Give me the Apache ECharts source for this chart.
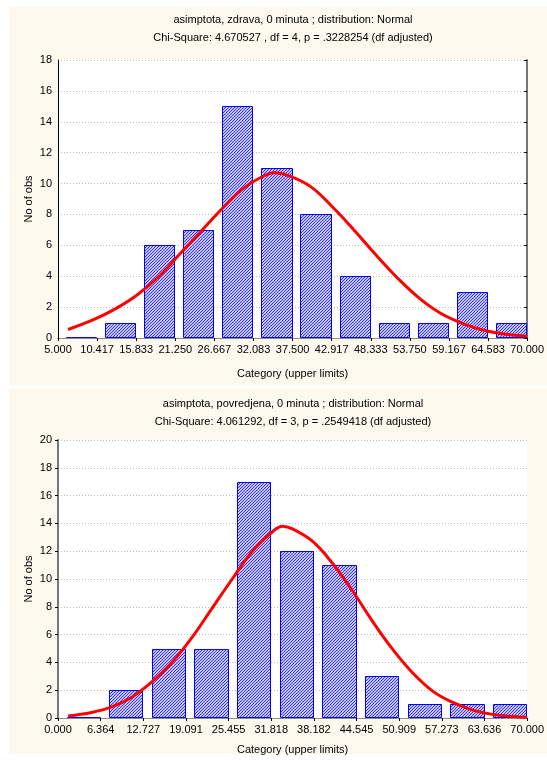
<!DOCTYPE html>
<html><head><meta charset="utf-8">
<script src="https://cdn.jsdelivr.net/npm/echarts@6/dist/echarts.min.js"></script>
<style>html,body{margin:0;padding:0;background:#fff}#c{width:547px;height:760px}</style>
</head><body><div id="c"></div>
<script>
// ---------- DATA ----------
const topTitle1 = "asimptota, zdrava, 0 minuta ; distribution: Normal";
const topTitle2 = "Chi-Square: 4.670527 , df = 4, p = .3228254 (df adjusted)";
const topTickLabels = ["5.000","10.417","15.833","21.250","26.667","32.083","37.500","42.917","48.333","53.750","59.167","64.583","70.000"];
const topCounts = [0,1,6,7,15,11,8,4,1,1,3,1];
const topCurveX = [6.4,10,13,16,19,22,25,28,31,34,35,37,40,43,46,49,52,55,58,61,64,67,70];
const topCurveY = [0.55,1.2,1.9,2.8,4.0,5.5,7.0,8.5,9.8,10.6,10.7,10.5,9.8,8.5,7.0,5.4,3.9,2.6,1.6,0.95,0.5,0.25,0.12];
const topYMax = 18;

const botTitle1 = "asimptota, povredjena, 0 minuta ; distribution: Normal";
const botTitle2 = "Chi-Square: 4.061292, df = 3, p = .2549418 (df adjusted)";
const botTickLabels = ["0.000","6.364","12.727","19.091","25.455","31.818","38.182","44.545","50.909","57.273","63.636","70.000"];
const botCounts = [0,2,5,5,17,12,11,3,1,1,1];
const botCurveX = [1.5,5,8,11,14,17,20,23,26,29,32,33.5,35,38,41,44,47,50,53,56,59,62,65,68,70];
const botCurveY = [0.15,0.4,0.8,1.5,2.6,4.0,5.8,7.9,10.0,12.0,13.4,13.8,13.6,12.7,11.1,9.1,6.9,4.9,3.2,1.9,1.1,0.55,0.25,0.1,0.05];
const botYMax = 20;

const xName = "Category (upper limits)";
const yName = "No of obs";

// ---------- STYLE ----------
const FONT = "'Liberation Sans', Arial, sans-serif";
const cv = document.createElement('canvas');
cv.width = 6; cv.height = 6;
const cx = cv.getContext('2d');
cx.fillStyle = '#c4c4ff'; cx.fillRect(0,0,6,6);
cx.fillStyle = '#3535ff';
for (let py = 0; py < 6; py++) {
  for (let px = 0; px < 6; px++) {
    if ((px + py) % 3 === 2) cx.fillRect(px, py, 1, 1);
  }
}
const hatch = {image: cv, repeat: 'repeat'};

function binsOf(labels, counts){
  const e = labels.map(Number);
  return counts.map((c,i)=>[e[i], e[i+1], c]);
}
function renderBar(params, api){
  const s = api.value(0), e = api.value(1), v = api.value(2);
  const p0 = api.coord([s, v]);
  const p1 = api.coord([e, 0]);
  const w = p1[0]-p0[0];
  const x = Math.round(p0[0] + w*0.2) + 0.5;
  const x2 = Math.round(p1[0]) - 0.5;
  const y2 = Math.round(p1[1]) - 0.5;
  const y = Math.min(Math.round(p0[1]) + 0.5, y2);
  return {type:'rect', shape:{x:x, y:y, width:x2-x, height:y2-y},
    style:{fill:hatch, stroke:'#0000ff', lineWidth:1}};
}

const grids = [
  {left:58, top:60, width:472, height:278},
  {left:58, top:440, width:472, height:278}
];
function xAxes(gi, labels, gap){
  const vals = labels.map(Number);
  const mn = vals[0], mx = vals[vals.length-1];
  return [
    {gridIndex:gi, type:'value', min:mn, max:mx, position:'bottom',
     name:xName, nameLocation:'middle', nameGap:gap,
     nameTextStyle:{fontFamily:FONT, fontSize:11, color:'#000'},
     axisLine:{show:true, lineStyle:{color:'#000', width:1}},
     axisTick:{show:false, customValues:vals},
     splitLine:{show:false},
     axisLabel:{customValues:vals, margin:6, fontFamily:FONT, fontSize:11, color:'#000',
       formatter:(v)=>{let b=0;vals.forEach((t,i)=>{if(Math.abs(t-v)<Math.abs(vals[b]-v))b=i;});return labels[b];}}},
    {gridIndex:gi, type:'value', min:mn, max:mx, position:'top',
     axisLine:{show:true, lineStyle:{color:'#8c8c8c', width:1}},
     axisTick:{show:true, inside:true, length:3, customValues:vals, lineStyle:{color:'#000'}},
     axisLabel:{show:false}, splitLine:{show:false}}
  ];
}
function yAxes(gi, ymax){
  return [
    {gridIndex:gi, type:'value', min:0, max:ymax, interval:2, position:'left',
     name:yName, nameLocation:'middle', nameGap:24, nameMoveOverlap:false,
     nameTextStyle:{fontFamily:FONT, fontSize:11, color:'#000'},
     axisLine:{show:true, lineStyle:{color:'#000', width:1}},
     axisTick:{show:false},
     axisLabel:{margin:6, fontFamily:FONT, fontSize:11, color:'#000'},
     splitLine:{show:true, lineStyle:{color:'#bdbdbd', type:[1,2], width:1}}},
    {gridIndex:gi, type:'value', min:0, max:ymax, interval:2, position:'right',
     axisLine:{show:true, lineStyle:{color:'#777', width:2}},
     axisTick:{show:true, inside:true, length:3, lineStyle:{color:'#000'}},
     axisLabel:{show:false}, splitLine:{show:false}}
  ];
}
function zip(a,b){return a.map((x,i)=>[x,b[i]]);}

const chart = echarts.init(document.getElementById('c'), null, {renderer:'canvas'});
chart.setOption({
  backgroundColor:'#ffffff',
  animation:false,
  graphic:[
    {type:'rect', z:-10, shape:{x:9, y:7, width:538, height:378}, style:{fill:'#fef9ee'}},
    {type:'rect', z:-10, shape:{x:9, y:388, width:538, height:366}, style:{fill:'#fef9ee'}},
    {type:'text', x:293, y:20, style:{text:topTitle1, font:'11px '+FONT, fill:'#000', textAlign:'center', textVerticalAlign:'middle'}},
    {type:'text', x:293, y:38, style:{text:topTitle2, font:'11px '+FONT, fill:'#000', textAlign:'center', textVerticalAlign:'middle'}},
    {type:'text', x:293, y:404, style:{text:botTitle1, font:'11px '+FONT, fill:'#000', textAlign:'center', textVerticalAlign:'middle'}},
    {type:'text', x:293, y:422, style:{text:botTitle2, font:'11px '+FONT, fill:'#000', textAlign:'center', textVerticalAlign:'middle'}}
  ],
  grid: grids.map(g=>Object.assign({show:true, backgroundColor:'#fff', borderWidth:0}, g)),
  xAxis: xAxes(0, topTickLabels, 30).concat(xAxes(1, botTickLabels, 26)),
  yAxis: yAxes(0, topYMax).concat(yAxes(1, botYMax)),
  series:[
    {type:'custom', xAxisIndex:0, yAxisIndex:0, renderItem:renderBar, encode:{x:[0,1], y:2},
     data:binsOf(topTickLabels, topCounts), z:2},
    {type:'line', xAxisIndex:0, yAxisIndex:0, data:zip(topCurveX, topCurveY), smooth:0.4,
     showSymbol:false, lineStyle:{color:'#ff0000', width:3}, z:3},
    {type:'custom', xAxisIndex:2, yAxisIndex:2, renderItem:renderBar, encode:{x:[0,1], y:2},
     data:binsOf(botTickLabels, botCounts), z:2},
    {type:'line', xAxisIndex:2, yAxisIndex:2, data:zip(botCurveX, botCurveY), smooth:0.4,
     showSymbol:false, lineStyle:{color:'#ff0000', width:3}, z:3}
  ]
});
</script></body></html>
